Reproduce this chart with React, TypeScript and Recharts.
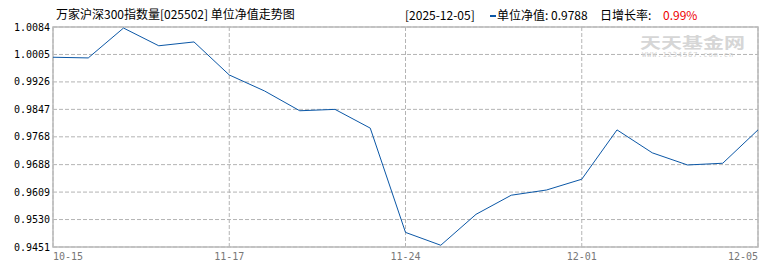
import { LineChart, Line, XAxis, YAxis, CartesianGrid, ReferenceArea } from 'recharts';

// 单位净值 (21 points, 10-15 .. 12-05)
const navValues = [
  0.9997, 0.9995, 1.0081, 1.0030, 1.0041, 0.9946, 0.9900, 0.9843, 0.9847, 0.9793,
  0.9493, 0.9456, 0.9545, 0.9600, 0.9615, 0.9646, 0.9788, 0.9722, 0.9687, 0.9692,
  0.9788,
];
const xTickIndex = [0, 5, 10, 15, 20];
const xTickLabels = ['10-15', '11-17', '11-24', '12-01', '12-05'];
const yTicks = [1.0084, 1.0005, 0.9926, 0.9847, 0.9768, 0.9688, 0.9609, 0.953, 0.9451];

const data = navValues.map((nav, i) => ({ i, nav }));

const GRID = '#b4b4b4';
const LINE = '#0b57a6';
const MONO = '"DejaVu Sans Mono", monospace';
const CJK = '"Noto Sans CJK SC", sans-serif';

const XTick = (props: any) => {
  const { x, y, payload, index } = props;
  const anchor = index === 0 ? 'start' : index === xTickIndex.length - 1 ? 'end' : 'middle';
  return (
    <text x={x} y={y} dy="0.71em" textAnchor={anchor} fontSize={10} fontFamily={MONO} fill="#777">
      {xTickLabels[xTickIndex.indexOf(payload.value)]}
    </text>
  );
};

export default function App() {
  return (
    <div style={{ position: 'relative', width: 770, height: 270, background: '#fff' }}>
      <style>{'body{margin:0}'}</style>
      <LineChart width={770} height={270} data={data} margin={{ top: 27, right: 12, left: 0, bottom: 0 }}>
        <CartesianGrid stroke={GRID} strokeDasharray="4 2" />
        <XAxis
          dataKey="i"
          type="number"
          domain={[0, 20]}
          ticks={xTickIndex}
          interval={0}
          height={23}
          tickSize={0}
          tickMargin={6}
          axisLine={false}
          tickLine={false}
          tick={<XTick />}
        />
        <YAxis
          domain={[0.9451, 1.0084]}
          ticks={yTicks}
          interval={0}
          allowDataOverflow
          width={53}
          tickSize={0}
          tickMargin={3}
          axisLine={false}
          tickLine={false}
          tickFormatter={(v: number) => v.toFixed(4)}
          tick={{ fontSize: 10, fill: '#000', fontFamily: MONO }}
        />
        <ReferenceArea x1={0} x2={20} y1={0.9451} y2={1.0084} fill="none" stroke="#bbb" strokeWidth={1.5} ifOverflow="visible" />
        <Line type="linear" dataKey="nav" stroke={LINE} strokeWidth={1} dot={false} isAnimationActive={false} />
      </LineChart>

      <div style={{ position: 'absolute', left: 56, top: 8, fontSize: 12, lineHeight: '12px', fontFamily: CJK, color: '#000', whiteSpace: 'nowrap' }}>
        万家沪深300指数量[025502] 单位净值走势图
      </div>
      <div style={{ position: 'absolute', left: 405, top: 9, fontSize: 12, lineHeight: '12px', fontFamily: CJK, color: '#000', whiteSpace: 'nowrap' }}>
        [2025-12-05]
      </div>
      <div style={{ position: 'absolute', left: 490, top: 15, width: 6, height: 2, background: LINE }} />
      <div style={{ position: 'absolute', left: 497, top: 9, fontSize: 12, lineHeight: '12px', fontFamily: CJK, color: '#000', whiteSpace: 'nowrap' }}>
        单位净值: 0.9788
      </div>
      <div style={{ position: 'absolute', left: 600, top: 9, fontSize: 12, lineHeight: '12px', fontFamily: CJK, color: '#000', whiteSpace: 'nowrap' }}>
        日增长率:
      </div>
      <div style={{ position: 'absolute', left: 663, top: 9, fontSize: 12, lineHeight: '12px', fontFamily: CJK, color: '#e00', whiteSpace: 'nowrap' }}>
        0.99%
      </div>

      <div style={{ position: 'absolute', left: 640, top: 34, fontSize: 15, lineHeight: '15px', fontFamily: CJK, fontWeight: 700, color: '#d6d6d6', whiteSpace: 'nowrap', transform: 'scaleX(1.4)', transformOrigin: 'left top' }}>
        天天基金网
      </div>
      <div style={{ position: 'absolute', left: 642, top: 52, fontSize: 7, lineHeight: '7px', fontFamily: MONO, color: '#cfcfcf', letterSpacing: 0.9, whiteSpace: 'nowrap' }}>
        WWW.1234567.com.cn
      </div>
    </div>
  );
}
